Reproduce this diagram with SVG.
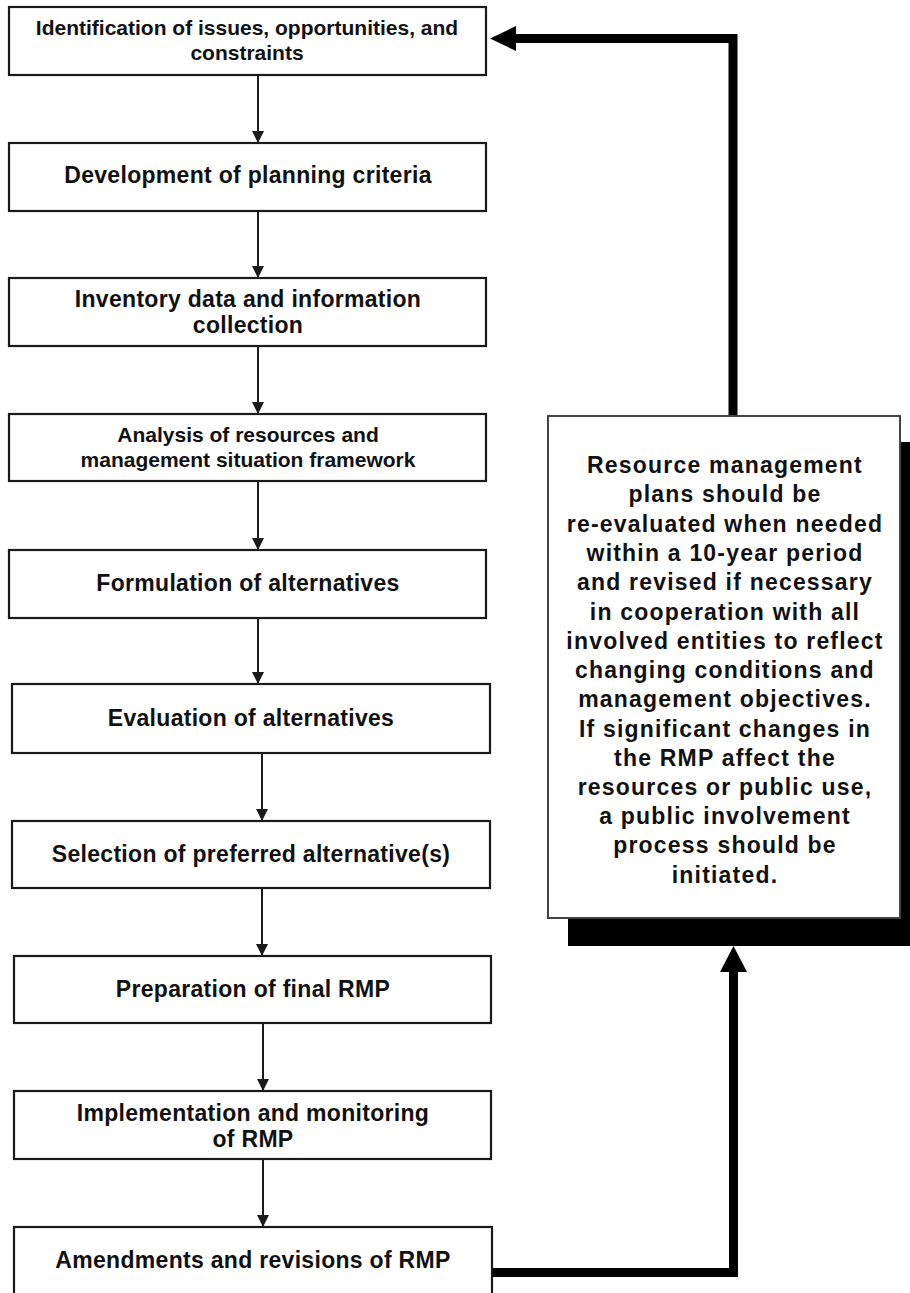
<svg xmlns="http://www.w3.org/2000/svg" width="910" height="1293" viewBox="0 0 910 1293">
<defs>
<style>
.box{fill:#fff;stroke:#1a1a1a;stroke-width:2.2}
.t{font-family:"Liberation Sans",Arial,Helvetica,sans-serif;font-weight:bold;font-size:23px;fill:#111;text-anchor:middle;letter-spacing:0.3px}
.s{font-size:21px;letter-spacing:0}
.note{font-family:"Liberation Sans",Arial,Helvetica,sans-serif;font-weight:bold;font-size:23px;fill:#111;text-anchor:middle;letter-spacing:1.2px}
.thin{stroke:#1a1a1a;stroke-width:2;fill:none}
.thick{stroke:#000;stroke-width:9;fill:none}
</style>
<marker id="ah" viewBox="0 0 12 12" refX="12" refY="6" markerWidth="12" markerHeight="12" markerUnits="userSpaceOnUse" orient="auto">
<path d="M0,0 L12,6 L0,12 Z" fill="#1a1a1a"/>
</marker>
</defs>
<rect width="910" height="1293" fill="#fff"/>

<g id="connectors">
<line class="thin" x1="258" y1="75" x2="258" y2="143" marker-end="url(#ah)"/>
<line class="thin" x1="258" y1="211" x2="258" y2="278" marker-end="url(#ah)"/>
<line class="thin" x1="258" y1="346" x2="258" y2="414" marker-end="url(#ah)"/>
<line class="thin" x1="258" y1="481" x2="258" y2="550" marker-end="url(#ah)"/>
<line class="thin" x1="258" y1="618" x2="258" y2="684" marker-end="url(#ah)"/>
<line class="thin" x1="262" y1="753" x2="262" y2="821" marker-end="url(#ah)"/>
<line class="thin" x1="262" y1="888" x2="262" y2="956" marker-end="url(#ah)"/>
<line class="thin" x1="263" y1="1023" x2="263" y2="1091" marker-end="url(#ah)"/>
<line class="thin" x1="263" y1="1159" x2="263" y2="1227" marker-end="url(#ah)"/>
<polyline class="thick" points="733,416 733,38.5 514,38.5"/>
<polygon points="490,38.5 516,26 516,51" fill="#000"/>
<polyline class="thick" points="492,1272.5 733.5,1272.5 733.5,970"/>
<polygon points="733.5,946 720,972 747,972" fill="#000"/>
</g>

<g id="n1">
<rect class="box" x="9" y="7" width="477" height="68"/>
<text class="t s" x="247" y="35">Identification of issues, opportunities, and</text>
<text class="t s" x="247" y="60">constraints</text>
</g>
<g id="n2">
<rect class="box" x="9" y="143" width="477" height="68"/>
<text class="t" x="248" y="183">Development of planning criteria</text>
</g>
<g id="n3">
<rect class="box" x="9" y="278" width="477" height="68"/>
<text class="t" x="248" y="307">Inventory data and information</text>
<text class="t" x="248" y="333">collection</text>
</g>
<g id="n4">
<rect class="box" x="9" y="414" width="477" height="67"/>
<text class="t s" x="248" y="442">Analysis of resources and</text>
<text class="t s" x="248" y="467">management situation framework</text>
</g>
<g id="n5">
<rect class="box" x="9" y="550" width="477" height="68"/>
<text class="t" x="248" y="591">Formulation of alternatives</text>
</g>
<g id="n6">
<rect class="box" x="12" y="684" width="478" height="69"/>
<text class="t" x="251" y="726">Evaluation of alternatives</text>
</g>
<g id="n7">
<rect class="box" x="12" y="821" width="478" height="67"/>
<text class="t" x="251" y="862">Selection of preferred alternative(s)</text>
</g>
<g id="n8">
<rect class="box" x="14" y="956" width="477" height="67"/>
<text class="t" x="253" y="997">Preparation of final RMP</text>
</g>
<g id="n9">
<rect class="box" x="14" y="1091" width="477" height="68"/>
<text class="t" x="253" y="1121">Implementation and monitoring</text>
<text class="t" x="253" y="1147">of RMP</text>
</g>
<g id="n10">
<rect class="box" x="14" y="1227" width="478" height="80"/>
<text class="t" x="253" y="1268">Amendments and revisions of RMP</text>
</g>

<g id="note">
<rect x="568" y="442" width="352" height="504" fill="#000"/>
<rect x="548" y="416" width="352" height="502" fill="#fff" stroke="#444" stroke-width="2"/>
<text class="note" x="725" y="473">Resource management</text>
<text class="note" x="725" y="502">plans should be</text>
<text class="note" x="725" y="532">re-evaluated when needed</text>
<text class="note" x="725" y="561">within a 10-year period</text>
<text class="note" x="725" y="590">and revised if necessary</text>
<text class="note" x="725" y="620">in cooperation with all</text>
<text class="note" x="725" y="649">involved entities to reflect</text>
<text class="note" x="725" y="678">changing conditions and</text>
<text class="note" x="725" y="707">management objectives.</text>
<text class="note" x="725" y="737">If significant changes in</text>
<text class="note" x="725" y="766">the RMP affect the</text>
<text class="note" x="725" y="795">resources or public use,</text>
<text class="note" x="725" y="824">a public involvement</text>
<text class="note" x="725" y="853">process should be</text>
<text class="note" x="725" y="883">initiated.</text>
</g>
</svg>
